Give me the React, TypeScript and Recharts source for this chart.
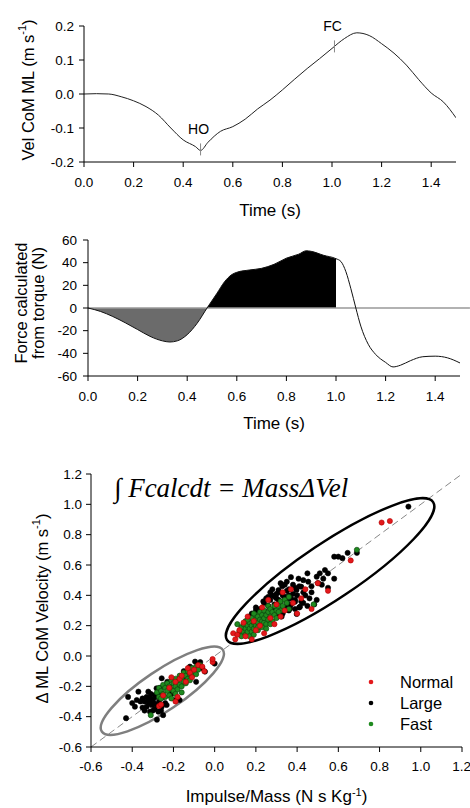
import { ComposedChart, Line, Area, XAxis, YAxis, ReferenceDot, ReferenceLine, ScatterChart, Scatter, Label, Customized } from 'recharts';

const FONT = '"Liberation Sans", Arial, sans-serif';

// Panel A: ML CoM velocity
const velTime = [0, 0.05, 0.1, 0.15, 0.2, 0.25, 0.3, 0.35, 0.4, 0.45, 0.47, 0.5, 0.55, 0.6, 0.65, 0.7, 0.75, 0.8, 0.85, 0.9, 0.95, 1.0, 1.05, 1.1, 1.15, 1.2, 1.25, 1.3, 1.35, 1.4, 1.45, 1.5];
const velValue = [0, 0.001, 0, -0.008, -0.02, -0.037, -0.062, -0.1, -0.135, -0.155, -0.166, -0.142, -0.11, -0.096, -0.074, -0.044, -0.018, 0.012, 0.044, 0.075, 0.104, 0.134, 0.163, 0.18, 0.172, 0.148, 0.12, 0.085, 0.042, 0.003, -0.024, -0.07];
const events = [
  { name: 'HO', t: 0.47, v: -0.163 },
  { name: 'FC', t: 1.01, v: 0.14 },
];

// Panel B: force from torque
const forceTime = [0, 0.05, 0.1, 0.15, 0.2, 0.25, 0.3, 0.33, 0.36, 0.4, 0.44, 0.48, 0.52, 0.55, 0.58, 0.6, 0.65, 0.7, 0.75, 0.8, 0.85, 0.88, 0.9, 0.95, 1.0, 1.02, 1.04, 1.06, 1.08, 1.1, 1.13, 1.16, 1.2, 1.23, 1.26, 1.3, 1.35, 1.4, 1.45, 1.5];
const forceValue = [0, -3, -7.5, -13, -19, -25, -29, -30, -29, -23.5, -13.5, 0, 13, 23, 29.5, 31.5, 33.5, 35, 38.5, 44, 47.5, 50.5, 50, 46.5, 43.5, 41, 32, 17, 0, -16, -32, -41, -48, -52, -50.5, -46.5, -43, -42.5, -44, -48.5];
const NEG_END = 0.48;
const POS_END = 1.0;

// Panel C: impulse vs velocity change
const normalPts = [
  [0.81, 0.88], [0.85, 0.89], [0.66, 0.63], [0.55, 0.43], [0.5, 0.48], [0.44, 0.44], [0.42, 0.38], [0.37, 0.44],
  [0.47, 0.31], [0.4, 0.28], [0.34, 0.3], [0.3, 0.34], [0.26, 0.37], [0.09, 0.15], [0.1, 0.11], [0.11, 0.14],
  [0.15, 0.13], [0.14, 0.22], [0.16, 0.26], [0.19, 0.23], [0.2, 0.17], [0.22, 0.2], [0.24, 0.15], [0.27, 0.25],
  [0.29, 0.21], [0.32, 0.26], [0.38, 0.35], [0.12, 0.17], [0.18, 0.11], [0.33, 0.42], [0.23, 0.32],
  [-0.27, -0.33], [-0.26, -0.32], [-0.25, -0.26], [-0.22, -0.21], [-0.19, -0.17], [-0.17, -0.15], [-0.16, -0.13],
  [-0.14, -0.17], [-0.12, -0.11], [-0.1, -0.09], [-0.08, -0.06], [-0.06, -0.07], [-0.05, -0.1], [-0.01, -0.04],
  [-0.01, -0.02], [-0.18, -0.27], [-0.13, -0.08], [-0.21, -0.14], [-0.19, -0.3], [-0.11, -0.14]
];
const largePts = [
  [0.94, 0.985], [0.69, 0.68], [0.645, 0.68], [0.62, 0.645], [0.6, 0.655], [0.58, 0.655], [0.58, 0.51], [0.55, 0.545],
  [0.535, 0.567], [0.527, 0.51], [0.51, 0.545], [0.495, 0.523], [0.503, 0.48], [0.55, 0.45], [0.454, 0.49], [0.45, 0.545],
  [0.407, 0.51], [0.42, 0.457], [0.397, 0.435], [0.495, 0.37], [0.483, 0.34], [0.328, 0.46], [0.35, 0.49], [0.37, 0.52],
  [0.31, 0.435], [0.293, 0.39], [0.236, 0.36], [0.39, 0.358], [0.414, 0.325], [0.366, 0.314], [0.398, 0.277], [0.325, 0.26],
  [0.43, 0.5], [0.38, 0.41], [0.36, 0.4], [0.33, 0.4], [0.31, 0.42], [0.3, 0.38], [0.28, 0.4], [0.27, 0.37],
  [0.35, 0.36], [0.37, 0.34], [0.39, 0.37], [0.44, 0.4], [0.46, 0.38], [0.45, 0.33], [0.41, 0.32], [0.32, 0.33],
  [0.29, 0.34], [0.26, 0.33], [0.24, 0.35], [0.22, 0.31], [0.25, 0.29], [0.2, 0.3], [0.18, 0.28], [0.23, 0.26],
  [0.27, 0.22], [0.33, 0.28], [0.36, 0.3], [0.3, 0.27], [0.42, 0.36], [0.47, 0.42], [0.35, 0.43], [0.28, 0.44],
  [0.32, 0.48], [0.26, 0.39], [0.39, 0.45], [0.34, 0.39], [0.31, 0.37], [0.29, 0.31], [0.2, 0.32], [0.17, 0.26],
  [0.34, 0.47], [0.36, 0.44], [0.38, 0.47], [0.4, 0.4], [0.41, 0.46], [0.43, 0.42], [0.37, 0.38], [0.3, 0.41],
  [0.32, 0.36], [0.35, 0.33], [0.39, 0.31], [0.43, 0.35], [0.47, 0.46], [0.52, 0.47], [0.27, 0.42], [0.25, 0.38],
  [-0.43, -0.41], [-0.42, -0.27], [-0.4, -0.31], [-0.387, -0.334], [-0.378, -0.29], [-0.37, -0.235], [-0.35, -0.34],
  [-0.34, -0.3], [-0.33, -0.334], [-0.33, -0.27], [-0.322, -0.235], [-0.314, -0.367], [-0.306, -0.323], [-0.3, -0.29],
  [-0.29, -0.257], [-0.29, -0.35], [-0.282, -0.213], [-0.28, -0.42], [-0.273, -0.367], [-0.27, -0.3], [-0.257, -0.334],
  [-0.25, -0.39], [-0.25, -0.27], [-0.24, -0.31], [-0.233, -0.323], [-0.23, -0.17], [-0.22, -0.2], [-0.21, -0.25],
  [-0.19, -0.29], [-0.17, -0.29], [-0.36, -0.3], [-0.31, -0.28], [-0.32, -0.31], [-0.3, -0.36], [-0.26, -0.36],
  [-0.257, -0.147], [-0.28, -0.32], [-0.35, -0.28], [-0.31, -0.25], [-0.295, -0.31], [-0.26, -0.25], [-0.15, -0.1],
  [-0.12, -0.07], [-0.095, -0.037], [-0.09, -0.17], [-0.07, -0.04], [-0.047, -0.103], [-0.06, -0.08], [0.0, -0.05],
  [-0.18, -0.19], [-0.14, -0.15], [-0.3, -0.32], [-0.32, -0.29], [-0.285, -0.27], [-0.265, -0.21], [-0.34, -0.36]
];
const fastPts = [
  [0.11, 0.21], [0.12, 0.16], [0.13, 0.13], [0.13, 0.19], [0.14, 0.16], [0.14, 0.21], [0.15, 0.14], [0.15, 0.18],
  [0.15, 0.23], [0.16, 0.16], [0.16, 0.2], [0.17, 0.13], [0.17, 0.18], [0.17, 0.22], [0.18, 0.16], [0.18, 0.2],
  [0.18, 0.25], [0.19, 0.18], [0.19, 0.22], [0.19, 0.14], [0.2, 0.2], [0.2, 0.24], [0.2, 0.27], [0.21, 0.17],
  [0.21, 0.22], [0.21, 0.26], [0.22, 0.2], [0.22, 0.24], [0.22, 0.29], [0.23, 0.19], [0.23, 0.23], [0.23, 0.27],
  [0.24, 0.22], [0.24, 0.25], [0.24, 0.3], [0.25, 0.21], [0.25, 0.27], [0.26, 0.24], [0.26, 0.29], [0.26, 0.33],
  [0.27, 0.26], [0.27, 0.31], [0.28, 0.23], [0.28, 0.29], [0.29, 0.27], [0.29, 0.33], [0.3, 0.3], [0.3, 0.25],
  [0.31, 0.33], [0.32, 0.3], [0.32, 0.36], [0.33, 0.33], [0.34, 0.37], [0.35, 0.35], [0.36, 0.39], [0.25, 0.18],
  [0.19, 0.28], [0.48, 0.34], [0.69, 0.7], [0.36, 0.31], [0.16, 0.24], [0.21, 0.19], [0.27, 0.21], [0.31, 0.29],
  [-0.31, -0.39], [-0.28, -0.24], [-0.27, -0.21], [-0.27, -0.27], [-0.26, -0.23], [-0.25, -0.19], [-0.25, -0.25],
  [-0.24, -0.21], [-0.24, -0.27], [-0.23, -0.18], [-0.23, -0.23], [-0.22, -0.2], [-0.22, -0.26], [-0.21, -0.16],
  [-0.21, -0.22], [-0.2, -0.18], [-0.2, -0.23], [-0.19, -0.15], [-0.19, -0.2], [-0.18, -0.17], [-0.18, -0.22],
  [-0.17, -0.13], [-0.17, -0.19], [-0.16, -0.15], [-0.16, -0.2], [-0.15, -0.11], [-0.15, -0.17], [-0.14, -0.13],
  [-0.14, -0.18], [-0.13, -0.1], [-0.13, -0.15], [-0.12, -0.12], [-0.12, -0.16], [-0.11, -0.08], [-0.11, -0.13],
  [-0.1, -0.1], [-0.09, -0.07], [-0.09, -0.12], [-0.08, -0.09], [-0.07, -0.06], [-0.19, -0.25], [-0.16, -0.24],
  [-0.26, -0.28], [-0.21, -0.28]
];
const groups = [
  { name: 'Normal', pts: normalPts, fill: '#e3191c', stroke: '#b00000' },
  { name: 'Large', pts: largePts, fill: '#000000', stroke: '#000000' },
  { name: 'Fast', pts: fastPts, fill: '#1f8a1f', stroke: '#0b3d0b' },
];
// clusters outlined: centre in data units, radii in px
const clusters = [
  { x: 0.56, y: 0.56, color: '#000', rx: 124, ry: 28, angle: -33.8 },
  { x: -0.254, y: -0.229, color: '#7f7f7f', rx: 73, ry: 20, angle: -34 },
];

const timeTicks = [0, 0.2, 0.4, 0.6, 0.8, 1.0, 1.2, 1.4];
const velTicks = [-0.2, -0.1, 0, 0.1, 0.2];
const forceTicks = [-60, -40, -20, 0, 20, 40, 60];
const impTicks = [-0.6, -0.4, -0.2, 0, 0.2, 0.4, 0.6, 0.8, 1.0, 1.2];

const fmt1 = (v: number) => v.toFixed(1);
const tickStyle = { fill: '#000', fontSize: 13.5, fontFamily: FONT };

const velData = velTime.map((t, i) => ({ t, v: velValue[i] }));
const forceData = forceTime.map((t, i) => ({
  t,
  f: forceValue[i],
  neg: t <= NEG_END ? forceValue[i] : null,
  pos: t >= NEG_END && t <= POS_END ? forceValue[i] : null,
}));

const Sup = ({ children }: { children: string }) => (
  <>
    <tspan dy={-6} fontSize={11}>{children}</tspan>
    <tspan dy={6}>)</tspan>
  </>
);

const bottomTitle = (text: React.ReactNode, off: number) => (p: any) => {
  const vb = p.viewBox;
  return (
    <text x={vb.x + vb.width / 2} y={vb.y + off} textAnchor="middle" fontSize={17} fontFamily={FONT} fill="#000">
      {text}
    </text>
  );
};

const sideTitle = (x: number, dyc: number, content: React.ReactNode) => (p: any) => {
  const vb = p.viewBox;
  const cy = vb.y + vb.height / 2 + dyc;
  return (
    <text x={x} y={cy} transform={`rotate(-90 ${x} ${cy})`} textAnchor="middle" dominantBaseline="central" fontSize={16.5} fontFamily={FONT} fill="#000">
      {content}
    </text>
  );
};

const eventMark = (name: string) => (p: any) => (
  <g>
    <line x1={p.cx} x2={p.cx} y1={p.cy - 6} y2={p.cy + 6} stroke="#888" strokeWidth={1} />
    <text x={p.cx - 2} y={p.cy - 15} textAnchor="middle" fontSize={14} fontFamily={FONT} fill="#000">{name}</text>
  </g>
);

const dotShape = (fill: string, stroke: string) => (p: any) => (
  <circle cx={p.cx} cy={p.cy} r={2.6} fill={fill} stroke={stroke} strokeWidth={0.6} />
);

const ellipseShape = (rx: number, ry: number, angle: number, color: string) => (p: any) => (
  <ellipse cx={p.cx} cy={p.cy} rx={rx} ry={ry} transform={`rotate(${angle} ${p.cx} ${p.cy})`} fill="none" stroke={color} strokeWidth={2.5} />
);

const Formula = () => (
  <text x={114} y={57} fontSize={27} fontStyle="italic" fontFamily='"Liberation Serif", "Times New Roman", serif' fill="#000">
    ∫ Fcalcdt = MassΔVel
  </text>
);

const GroupLegend = () => (
  <g fontFamily={FONT} fontSize={16.5}>
    {groups.map((g, i) => (
      <g key={g.name}>
        <circle cx={371} cy={242 + i * 21} r={2.3} fill={g.fill} />
        <text x={400} y={248 + i * 21} fill="#000">{g.name}</text>
      </g>
    ))}
  </g>
);

export default function App() {
  return (
    <div style={{ position: 'absolute', left: 0, top: 0, width: 470, height: 808, background: '#fff' }}>
      <div style={{ position: 'absolute', left: 0, top: 0 }}>
        <ComposedChart width={470} height={230} data={velData} margin={{ top: 26, right: 14, bottom: 0, left: 0 }}>
          <XAxis type="number" dataKey="t" domain={[0, 1.5]} ticks={timeTicks} tickFormatter={fmt1} tick={tickStyle}
            tickSize={5} tickMargin={10} stroke="#000" height={68} allowDataOverflow>
            <Label content={bottomTitle('Time (s)', 54)} />
          </XAxis>
          <YAxis type="number" domain={[-0.2, 0.2]} ticks={velTicks} tickFormatter={fmt1} tick={tickStyle}
            tickSize={5} tickMargin={5} stroke="#000" width={84} allowDataOverflow>
            <Label content={sideTitle(28, -4, <>Vel CoM ML (m s<Sup>-1</Sup></>)} />
          </YAxis>
          <Line type="monotone" dataKey="v" stroke="#222" strokeWidth={1} dot={false} isAnimationActive={false} />
          {events.map(e => (
            <ReferenceDot key={e.name} x={e.t} y={e.v} r={0} shape={eventMark(e.name)} />
          ))}
        </ComposedChart>
      </div>

      <div style={{ position: 'absolute', left: 0, top: 220 }}>
        <ComposedChart width={470} height={220} data={forceData} margin={{ top: 20, right: 10, bottom: 0, left: 0 }}>
          <XAxis type="number" dataKey="t" domain={[0, 1.5]} ticks={timeTicks} tickFormatter={fmt1} tick={tickStyle}
            tickSize={5} tickMargin={10} stroke="#000" height={64} allowDataOverflow>
            <Label content={bottomTitle('Time (s)', 53)} />
          </XAxis>
          <YAxis type="number" domain={[-60, 60]} ticks={forceTicks} tick={tickStyle}
            tickSize={5} tickMargin={6} stroke="#000" width={88} allowDataOverflow>
            <Label content={(p: any) => (
              <g>
                {sideTitle(21, -5, 'Force calculated')(p)}
                {sideTitle(38, -5, 'from torque (N)')(p)}
              </g>
            )} />
          </YAxis>
          <ReferenceLine segment={[{ x: 0, y: 0 }, { x: 1.54, y: 0 }]} stroke="#999" strokeWidth={1.5} ifOverflow="visible" />
          <Area type="monotone" dataKey="neg" baseValue={0} fill="#6b6b6b" fillOpacity={1} stroke="none" isAnimationActive={false} />
          <Area type="monotone" dataKey="pos" baseValue={0} fill="#000" fillOpacity={1} stroke="none" isAnimationActive={false} />
          <Line type="monotone" dataKey="f" stroke="#111" strokeWidth={1} dot={false} isAnimationActive={false} />
        </ComposedChart>
      </div>

      <div style={{ position: 'absolute', left: 0, top: 440 }}>
        <ScatterChart width={470} height={368} margin={{ top: 34, right: 8, bottom: 0, left: 0 }}>
          <XAxis type="number" dataKey="x" domain={[-0.6, 1.2]} ticks={impTicks} tickFormatter={fmt1} tick={tickStyle}
            tickSize={5} tickMargin={9} stroke="#000" height={61} allowDataOverflow>
            <Label content={bottomTitle(<>Impulse/Mass (N s Kg<Sup>-1</Sup></>, 55)} />
          </XAxis>
          <YAxis type="number" dataKey="y" domain={[-0.6, 1.2]} ticks={impTicks} tickFormatter={fmt1} tick={tickStyle}
            tickSize={5} tickMargin={4} stroke="#000" width={91} allowDataOverflow>
            <Label content={sideTitle(42, -2, <>Δ ML CoM Velocity (m s<Sup>-1</Sup></>)} />
          </YAxis>
          <ReferenceLine segment={[{ x: -0.6, y: -0.6 }, { x: 1.2, y: 1.2 }]} stroke="#888" strokeDasharray="7 4" ifOverflow="visible" />
          {clusters.map((c, i) => (
            <ReferenceDot key={i} x={c.x} y={c.y} r={0} shape={ellipseShape(c.rx, c.ry, c.angle, c.color)} />
          ))}
          {[groups[1], groups[2], groups[0]].map(g => (
            <Scatter key={g.name} name={g.name} data={g.pts.map(([x, y]) => ({ x, y }))}
              shape={dotShape(g.fill, g.stroke)} isAnimationActive={false} />
          ))}
          <Customized component={<Formula />} />
          <Customized component={<GroupLegend />} />
        </ScatterChart>
      </div>
    </div>
  );
}
